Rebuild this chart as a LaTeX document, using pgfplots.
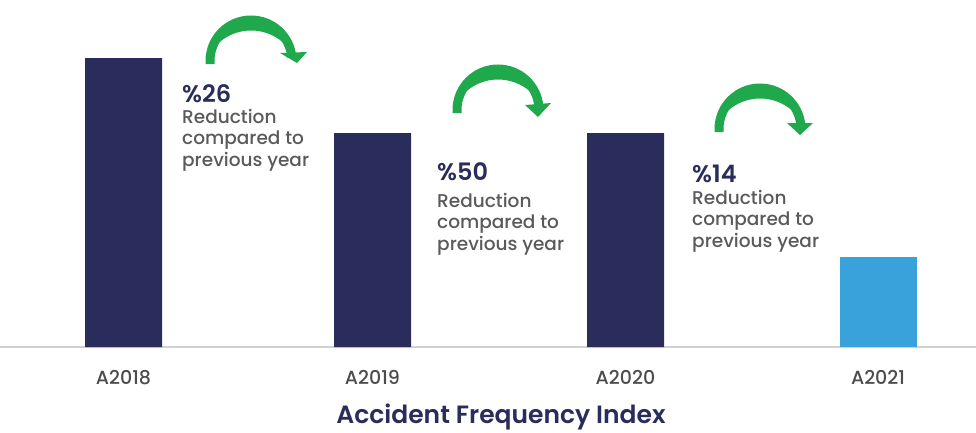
\documentclass[border=0pt]{standalone}
\usepackage{pgfplots}
\pgfplotsset{compat=1.18}
\usepackage{fontspec}
\setmainfont{Poppins}[UprightFont=* Medium, BoldFont=* SemiBold]

\definecolor{navy}{HTML}{2A2D5C}
\definecolor{lightblue}{HTML}{3AA2DB}
\definecolor{arrowgreen}{HTML}{1FA94C}
\definecolor{txtgray}{HTML}{5A5A5A}

\tikzset{
  pct/.style={anchor=base west, inner sep=0pt, text=navy,
              font=\fontsize{24}{27}\selectfont\bfseries},
  note/.style={anchor=base west, inner sep=0pt, text=txtgray,
               font=\fontsize{18.5}{22}\selectfont},
  turn/.style={draw=arrowgreen, line width=9pt},
}

\begin{document}
\begin{tikzpicture}
\begin{axis}[
    at={(0,0)}, anchor=south west,
    scale only axis,
    width=976pt, height=347pt,
    xmin=0, xmax=976, ymin=0, ymax=347,
    axis x line*=bottom,
    hide y axis,
    axis line style={draw=black!18, line width=1.6pt},
    xtick={123.5,372.5,625.5,878},
    xticklabels={A2018,A2019,A2020,A2021},
    major tick length=0pt,
    xticklabel style={anchor=base, yshift=-37pt, text=black!70,
                      font=\fontsize{19}{22}\selectfont},
    clip=false,
]
\addplot[ybar, bar width=77pt, bar shift=0pt, fill=navy, draw=none]
  coordinates {(123.5,289) (372.5,214) (625.5,214)};
\addplot[ybar, bar width=77pt, bar shift=0pt, fill=lightblue, draw=none]
  coordinates {(878,90)};

% curved arrows (y = 347 - pixel row), a crescent makes the top thicker
\draw[turn] (axis cs:210,283) -- (axis cs:210,286)
  arc[start angle=180, end angle=5, radius=41pt];
\fill[arrowgreen] (axis cs:219,304.5) arc[start angle=150, end angle=30, radius=37pt]
  arc[start angle=48.9, end angle=131.1, radius=48.67pt] -- cycle;
\fill[arrowgreen] (axis cs:280,294) -- (axis cs:307,295) -- (axis cs:297,284) -- cycle;

\draw[turn] (axis cs:457,234) -- (axis cs:457,237)
  arc[start angle=180, end angle=5, radius=41pt];
\fill[arrowgreen] (axis cs:466,255.5) arc[start angle=150, end angle=30, radius=37pt]
  arc[start angle=48.9, end angle=131.1, radius=48.67pt] -- cycle;
\fill[arrowgreen] (axis cs:525,242) -- (axis cs:551,244) -- (axis cs:538,230) -- cycle;

\draw[turn] (axis cs:719,215) -- (axis cs:719,218)
  arc[start angle=180, end angle=5, radius=41pt];
\fill[arrowgreen] (axis cs:728,236.5) arc[start angle=150, end angle=30, radius=37pt]
  arc[start angle=48.9, end angle=131.1, radius=48.67pt] -- cycle;
\fill[arrowgreen] (axis cs:787,224) -- (axis cs:813,224) -- (axis cs:800,212) -- cycle;

% 2018 -> 2019
\node[pct]  at (axis cs:182,245) {\%26};
\node[note] at (axis cs:182,224) {Reduction};
\node[note] at (axis cs:182,202.5) {compared to};
\node[note] at (axis cs:182,181) {previous year};

% 2019 -> 2020
\node[pct]  at (axis cs:437,167) {\%50};
\node[note] at (axis cs:437,140) {Reduction};
\node[note] at (axis cs:437,118.5) {compared to};
\node[note] at (axis cs:437,97) {previous year};

% 2020 -> 2021
\node[pct]  at (axis cs:692,165) {\%14};
\node[note] at (axis cs:692,143) {Reduction};
\node[note] at (axis cs:692,121.5) {compared to};
\node[note] at (axis cs:692,100) {previous year};

\node[anchor=base, inner sep=0pt, text=navy,
      font=\fontsize{25}{29}\selectfont\bfseries]
  at (axis cs:501,0) [yshift=-76pt] {Accident Frequency Index};
\end{axis}
\pgfresetboundingbox
\path (0,-85pt) rectangle (976pt,347pt);
\end{tikzpicture}
\end{document}
